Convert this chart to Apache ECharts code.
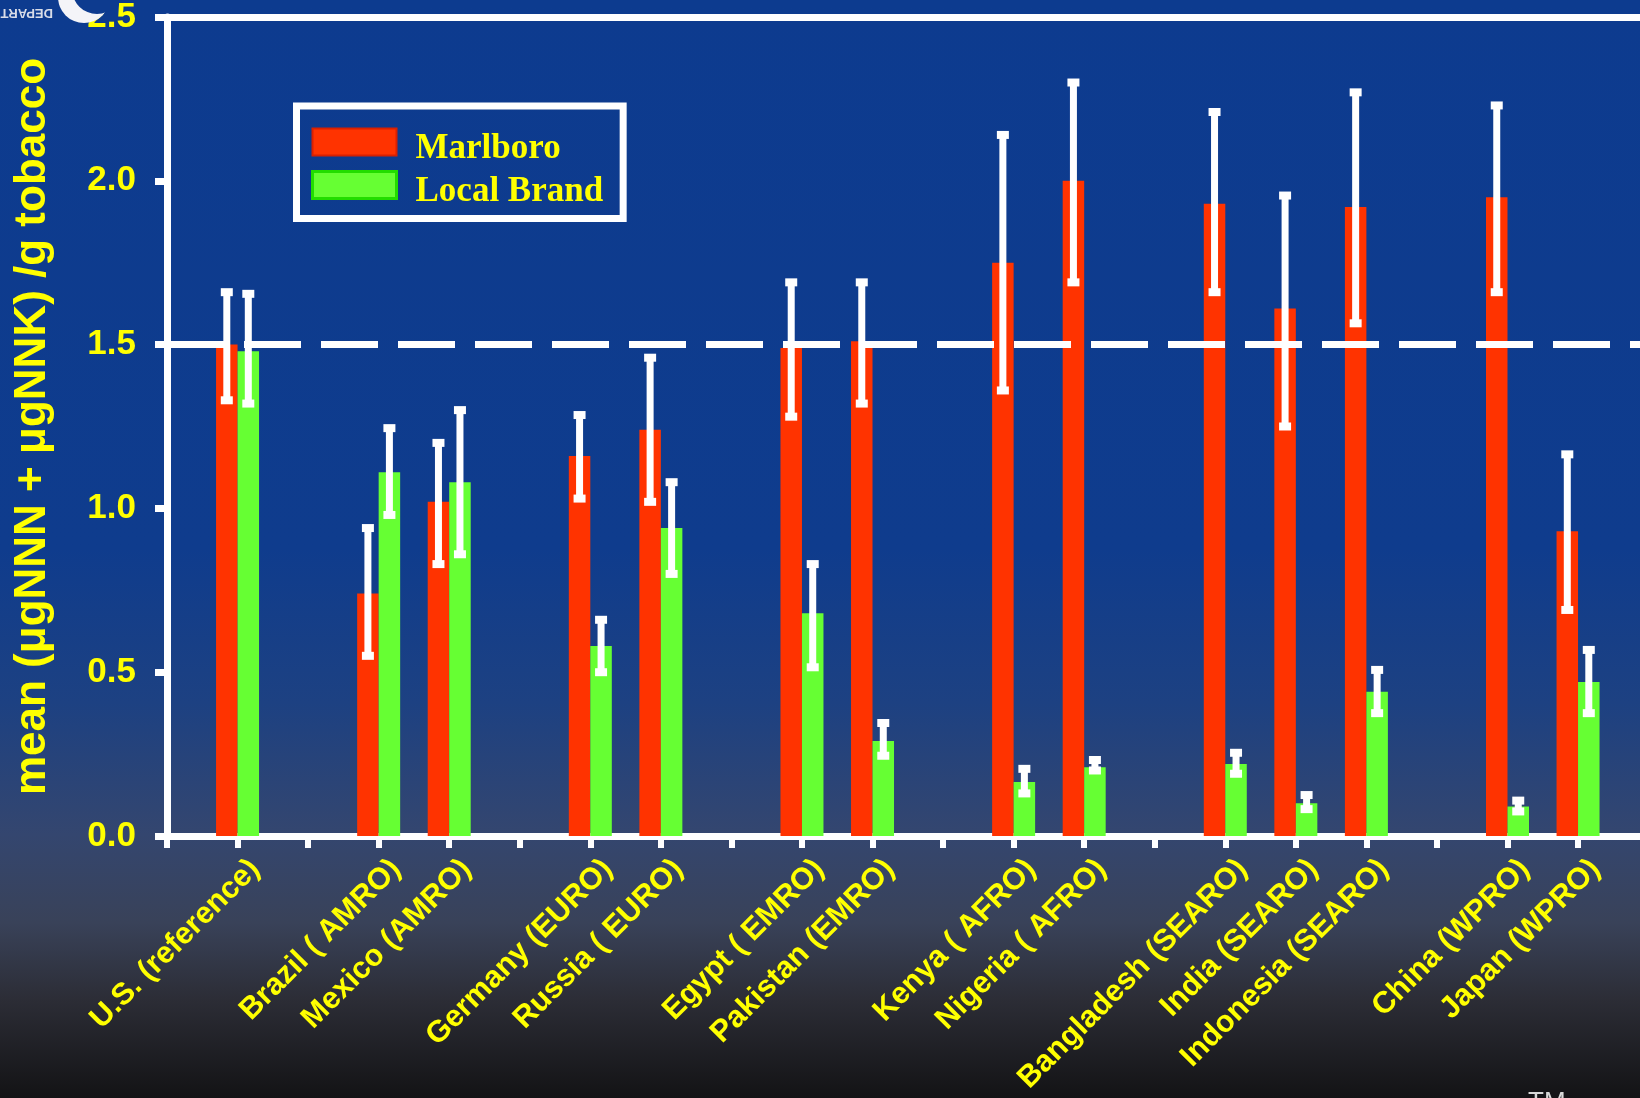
<!DOCTYPE html>
<html>
<head>
<meta charset="utf-8">
<script src="https://cdn.jsdelivr.net/npm/echarts@6/dist/echarts.min.js"></script>
<style>html,body{margin:0;padding:0;background:#141416;}#c{width:1640px;height:1098px;}</style>
</head>
<body>
<div id="c"></div>
<script>
// ---- data ----
const categories = ['', 'U.S. (reference)', '', 'Brazil ( AMRO)', 'Mexico (AMRO)', '', 'Germany (EURO)', 'Russia ( EURO)', '',
  'Egypt ( EMRO)', 'Pakistan (EMRO)', '', 'Kenya ( AFRO)', 'Nigeria ( AFRO)', '', 'Bangladesh (SEARO)', 'India (SEARO)',
  'Indonesia (SEARO)', '', 'China (WPRO)', 'Japan (WPRO)', ''];
const seriesNames = ['Marlboro', 'Local Brand'];
const marlboro     = [null, 1.50, null, 0.74, 1.02, null, 1.16, 1.24, null, 1.49, 1.51, null, 1.75, 2.00, null, 1.93, 1.61, 1.92, null, 1.95, 0.93, null];
const marlboroLow  = [null, 1.33, null, 0.55, 0.83, null, 1.03, 1.02, null, 1.28, 1.32, null, 1.36, 1.69, null, 1.66, 1.25, 1.565, null, 1.66, 0.69, null];
const marlboroHigh = [null, 1.66, null, 0.94, 1.20, null, 1.285, 1.46, null, 1.69, 1.69, null, 2.14, 2.30, null, 2.21, 1.955, 2.27, null, 2.23, 1.165, null];
const localBrand   = [null, 1.48, null, 1.11, 1.08, null, 0.58, 0.94, null, 0.68, 0.29, null, 0.165, 0.21, null, 0.22, 0.10, 0.44, null, 0.09, 0.47, null];
const localLow     = [null, 1.32, null, 0.98, 0.86, null, 0.50, 0.80, null, 0.515, 0.245, null, 0.13, 0.20, null, 0.19, 0.082, 0.375, null, 0.075, 0.375, null];
const localHigh    = [null, 1.655, null, 1.245, 1.30, null, 0.66, 1.08, null, 0.83, 0.345, null, 0.205, 0.232, null, 0.254, 0.125, 0.507, null, 0.108, 0.568, null];
const yTicks = [0, 0.5, 1.0, 1.5, 2.0, 2.5];
const referenceLevel = 1.5;
const yAxisTitle = 'mean (\u03bcgNNN + \u03bcgNNK) /g tobacco';

// ---- styling ----
const YELLOW = '#ffff00';
const RED = '#ff3300';
const GREEN = '#66ff33';
const BAR_W = 21.5;

function errData(lo, hi) {
  const out = [];
  for (let i = 0; i < lo.length; i++) {
    if (lo[i] != null && hi[i] != null) out.push([i, lo[i], hi[i]]);
  }
  return out;
}
function errRenderer(offset) {
  return function (params, api) {
    const idx = api.value(0);
    const x = api.coord([idx, 0])[0] + offset;
    const yLo = api.coord([idx, api.value(1)])[1];
    const yHi = api.coord([idx, api.value(2)])[1];
    return {
      type: 'group',
      children: [
        { type: 'line', shape: { x1: x, y1: yHi, x2: x, y2: yLo }, style: { stroke: '#fff', lineWidth: 7 } },
        { type: 'rect', shape: { x: x - 6, y: yHi - 4, width: 12, height: 8 }, style: { fill: '#fff' } },
        { type: 'rect', shape: { x: x - 6, y: yLo - 4, width: 12, height: 8 }, style: { fill: '#fff' } }
      ]
    };
  };
}

const chart = echarts.init(document.getElementById('c'), null, { renderer: 'canvas' });
chart.setOption({
  animation: false,
  backgroundColor: {
    type: 'linear', x: 0, y: 0, x2: 0, y2: 1,
    colorStops: [
      { offset: 0, color: '#0d3b8f' },
      { offset: 0.5, color: '#0f3c8d' },
      { offset: 0.64, color: '#1d4182' },
      { offset: 0.76, color: '#34466f' },
      { offset: 0.84, color: '#394259' },
      { offset: 0.91, color: '#2c2d36' },
      { offset: 1, color: '#131315' }
    ]
  },
  grid: { left: 167, top: 17, width: 1481.6, height: 819, containLabel: false, outerBoundsMode: 'none' },
  legend: {
    orient: 'vertical',
    left: 296.5,
    top: 106,
    padding: [21.5, 20, 9, 14.5],
    itemWidth: 84,
    itemHeight: 27,
    itemGap: 3.5,
    borderColor: '#ffffff',
    borderWidth: 7,
    icon: 'rect',
    data: [
      { name: seriesNames[0], itemStyle: { borderColor: '#d92000', borderWidth: 2 } },
      { name: seriesNames[1], itemStyle: { borderColor: '#22dd00', borderWidth: 3 } }
    ],
    formatter: '{a|{name}}',
    textStyle: {
      color: YELLOW, fontFamily: 'Liberation Serif', fontWeight: 'bold', fontSize: 35,
      rich: { a: { color: YELLOW, fontFamily: 'Liberation Serif', fontWeight: 'bold', fontSize: 35, padding: [14, 0, 0, 14] } }
    }
  },
  xAxis: {
    type: 'category',
    data: categories,
    boundaryGap: false,
    axisLine: { lineStyle: { color: '#ffffff', width: 7 } },
    axisTick: { show: true, interval: 0, length: 12, lineStyle: { color: '#ffffff', width: 6 } },
    axisLabel: {
      interval: 0, rotate: 45, margin: 11, verticalAlign: 'top', padding: [9, 0, 0, 0],
      color: YELLOW, fontSize: 30.5, fontWeight: 'bold', fontFamily: 'Liberation Sans'
    },
    splitLine: { show: false }
  },
  yAxis: {
    type: 'value',
    min: yTicks[0], max: yTicks[yTicks.length - 1], interval: 0.5,
    name: yAxisTitle,
    nameLocation: 'middle',
    nameGap: 112,
    nameTextStyle: { color: YELLOW, fontSize: 44, fontWeight: 'bold', fontFamily: 'Liberation Sans' },
    axisLine: { show: true, lineStyle: { color: '#ffffff', width: 7 } },
    axisTick: { show: true, length: 12, lineStyle: { color: '#ffffff', width: 7 } },
    axisLabel: {
      margin: 31, color: YELLOW, fontSize: 35, fontWeight: 'bold', fontFamily: 'Liberation Sans',
      formatter: v => v.toFixed(1)
    },
    splitLine: { show: false }
  },
  series: [
    { name: seriesNames[0], type: 'bar', data: marlboro, barWidth: BAR_W, barGap: '0%', itemStyle: { color: RED }, z: 2, silent: true },
    { name: seriesNames[1], type: 'bar', data: localBrand, barWidth: BAR_W, barGap: '0%', itemStyle: { color: GREEN }, z: 2, silent: true },
    {
      name: 'lines', type: 'custom', data: [], renderItem: () => null, z: 4, silent: true,
      markLine: {
        silent: true, symbol: ['none', 'none'], label: { show: false }, z: 4,
        emphasis: { disabled: true },
        data: [
          { yAxis: referenceLevel, lineStyle: { color: '#ffffff', width: 7, type: [57, 20], dashOffset: 0 } },
          { yAxis: yTicks[yTicks.length - 1], lineStyle: { color: '#ffffff', width: 7, type: 'solid' } }
        ]
      }
    },
    { name: 'errM', type: 'custom', data: errData(marlboroLow, marlboroHigh), encode: { x: 0, y: [1, 2] }, renderItem: errRenderer(-BAR_W / 2), z: 6, silent: true },
    { name: 'errL', type: 'custom', data: errData(localLow, localHigh), encode: { x: 0, y: [1, 2] }, renderItem: errRenderer(BAR_W / 2), z: 6, silent: true }
  ],
  graphic: [
    { type: 'circle', shape: { cx: 84, cy: -3, r: 26 }, style: { fill: '#f4f4f8' }, z: 1 },
    { type: 'circle', shape: { cx: 97, cy: -11, r: 25 }, style: { fill: '#0d3b8f' }, z: 1 },
    { type: 'text', x: 53, y: 19, rotation: Math.PI, style: { text: 'DEPARTMENT', font: 'bold 13px "Liberation Sans"', fill: '#d8dce8' }, z: 1 },
    { type: 'text', x: 1528, y: 1090, style: { text: 'TM', font: '26px "Liberation Sans"', fill: '#d8d8d8' }, z: 1 }
  ]
});
</script>
</body>
</html>
